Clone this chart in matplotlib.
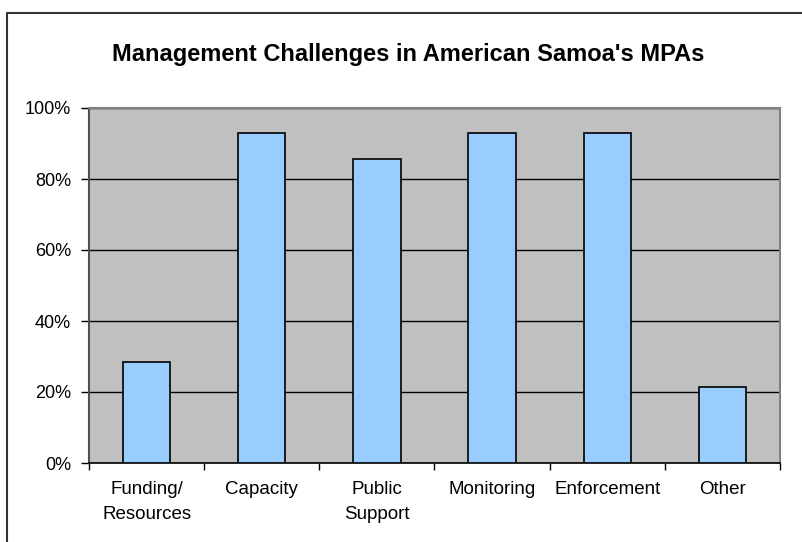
import numpy as np
import matplotlib.pyplot as plt
from matplotlib.lines import Line2D
from matplotlib.ticker import FixedLocator, PercentFormatter

categories = ["Funding/\nResources", "Capacity", "Public\nSupport",
              "Monitoring", "Enforcement", "Other"]
values = [28.57, 92.86, 85.71, 92.86, 92.86, 21.43]
y_ticks = [0, 20, 40, 60, 80, 100]

plt.rcParams['font.family'] = ['Liberation Sans', 'DejaVu Sans']

fig = plt.figure(figsize=(8.03, 5.42), dpi=100)
ax = fig.add_axes([89 / 803, 1 - 463 / 542, 691 / 803, 355 / 542])

x = np.arange(len(categories))
ax.set_facecolor('#C0C0C0')
ax.bar(x, values, width=0.41, color='#99CCFF', edgecolor='black',
       linewidth=1.2, zorder=3)

ax.set_ylim(0, 100)
ax.set_xlim(-0.5, len(categories) - 0.5)
ax.set_yticks(y_ticks)
ax.yaxis.set_major_formatter(PercentFormatter(decimals=0))
ax.grid(axis='y', color='black', linewidth=1.0, zorder=1)

ax.set_xticks(x)
ax.set_xticklabels(categories, linespacing=1.6)
ax.xaxis.set_minor_locator(FixedLocator(np.arange(-0.5, len(categories), 1.0)))
ax.tick_params(axis='x', which='major', length=0, pad=13, labelsize=13.5)
ax.tick_params(axis='x', which='minor', length=5, width=1, color='black')
ax.tick_params(axis='y', length=6, width=1, pad=7, labelsize=13)

for s in ['top', 'right']:
    ax.spines[s].set_color('#808080')
    ax.spines[s].set_linewidth(1.5)
ax.spines['left'].set_color('#505050')
ax.spines['left'].set_linewidth(1.5)
ax.spines['bottom'].set_color('black')
ax.spines['bottom'].set_linewidth(1.2)

fig.text(408 / 803, 1 - 55 / 542, "Management Challenges in American Samoa's MPAs",
         ha='center', va='center', fontsize=17, fontweight='bold')

# outer chart frame (left and top edges visible)
bx = 7.5 / 803
by = 1 - 12.7 / 542
fig.add_artist(Line2D([bx, bx, 1.0], [0.0, by, by], transform=fig.transFigure,
                      color='#333333', linewidth=1.5))

fig.savefig('out.png', dpi=100)
